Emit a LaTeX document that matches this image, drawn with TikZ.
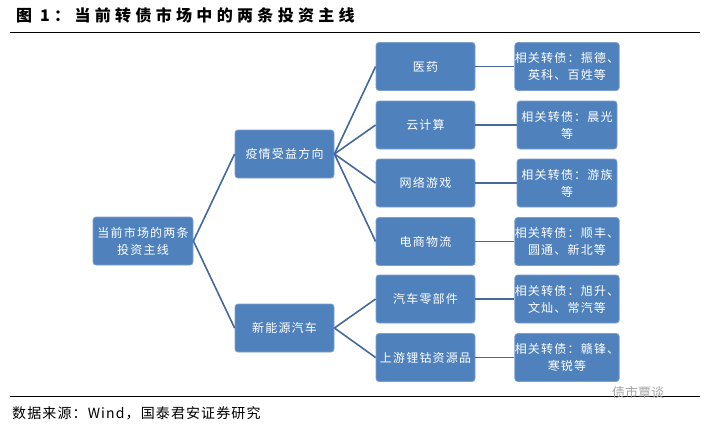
\documentclass[tikz,border=0pt]{standalone}
\usepackage{fontspec}
\newfontfamily\cjk{Noto Sans CJK SC}
\newfontfamily\cjkfoot{Noto Sans CJK SC}[LetterSpace=8]
\newfontfamily\cjkbox{Noto Sans CJK SC}[LetterSpace=10]
\newfontfamily\cjktitle{Noto Sans CJK SC}[LetterSpace=27]
\definecolor{boxblue}{HTML}{4F81BD}
\definecolor{boxedge}{HTML}{7FA0CF}
\definecolor{linkblue}{HTML}{45699C}
\tikzset{
  bx/.style={rectangle, rounded corners=3pt, fill=boxblue, draw=boxedge, line width=0.8pt,
    text=white, align=center, inner sep=0pt, minimum width=99pt, minimum height=48pt,
    font=\cjkbox\fontsize{12}{17}\selectfont},
  link/.style={draw=linkblue, line width=1.6pt},
}
\begin{document}
\begin{tikzpicture}[x=1pt,y=-1pt]
\useasboundingbox[fill=white] (0,0) rectangle (709,426);
% title
\node[anchor=west, inner sep=0, font=\cjktitle\bfseries\fontsize{16}{18}\selectfont] (title) at (16,15) {图 1：当前转债市场中的两条投资主线};
\draw[line width=1pt] (10,32) -- (700,32);
\draw[line width=1pt] (10,396) -- (700,396);
\node[anchor=west, inner sep=0, font=\cjkfoot\fontsize{14}{16}\selectfont] (src) at (12,413) {数据来源：Wind，国泰君安证券研究};
\node[anchor=west, inner sep=0, text=black!35, font=\cjk\fontsize{13}{16}\selectfont] (wm) at (612,393) {债市覃谈};
% nodes
\node[bx, minimum width=100pt] (root) at (143,241) {当前市场的两条\\投资主线};
\node[bx] (a) at (284.5,154) {疫情受益方向};
\node[bx] (b) at (284.5,328) {新能源汽车};
\node[bx] (a1) at (425.5,66.5) {医药};
\node[bx] (a2) at (425.5,125) {云计算};
\node[bx] (a3) at (425.5,183) {网络游戏};
\node[bx] (a4) at (425.5,241.5) {电商物流};
\node[bx] (b1) at (425.5,299) {汽车零部件};
\node[bx] (b2) at (425.5,357.5) {上游锂钴资源品};
\node[bx, minimum width=100pt] (c1) at (567,66.5) {相关转债：振德、\\英科、百姓等};
\node[bx, minimum width=100pt] (c2) at (567,125) {相关转债：晨光\\等};
\node[bx, minimum width=100pt] (c3) at (567,183) {相关转债：游族\\等};
\node[bx, minimum width=100pt] (c4) at (567,241.5) {相关转债：顺丰、\\圆通、新北等};
\node[bx, minimum width=100pt] (d1) at (567,299) {相关转债：旭升、\\文灿、常汽等};
\node[bx, minimum width=100pt] (d2) at (567,357.5) {相关转债：赣锋、\\寒锐等};
% links
\draw[link] (root.east) -- (a.west);
\draw[link] (root.east) -- (b.west);
\foreach \t in {a1,a2,a3,a4} \draw[link] (a.east) -- (\t.west);
\foreach \t in {b1,b2} \draw[link] (b.east) -- (\t.west);
\draw[link] (a1.east) -- (c1.west);
\draw[link] (a2.east) -- (c2.west);
\draw[link] (a3.east) -- (c3.west);
\draw[link] (a4.east) -- (c4.west);
\draw[link] (b1.east) -- (d1.west);
\draw[link] (b2.east) -- (d2.west);
\end{tikzpicture}
\end{document}
